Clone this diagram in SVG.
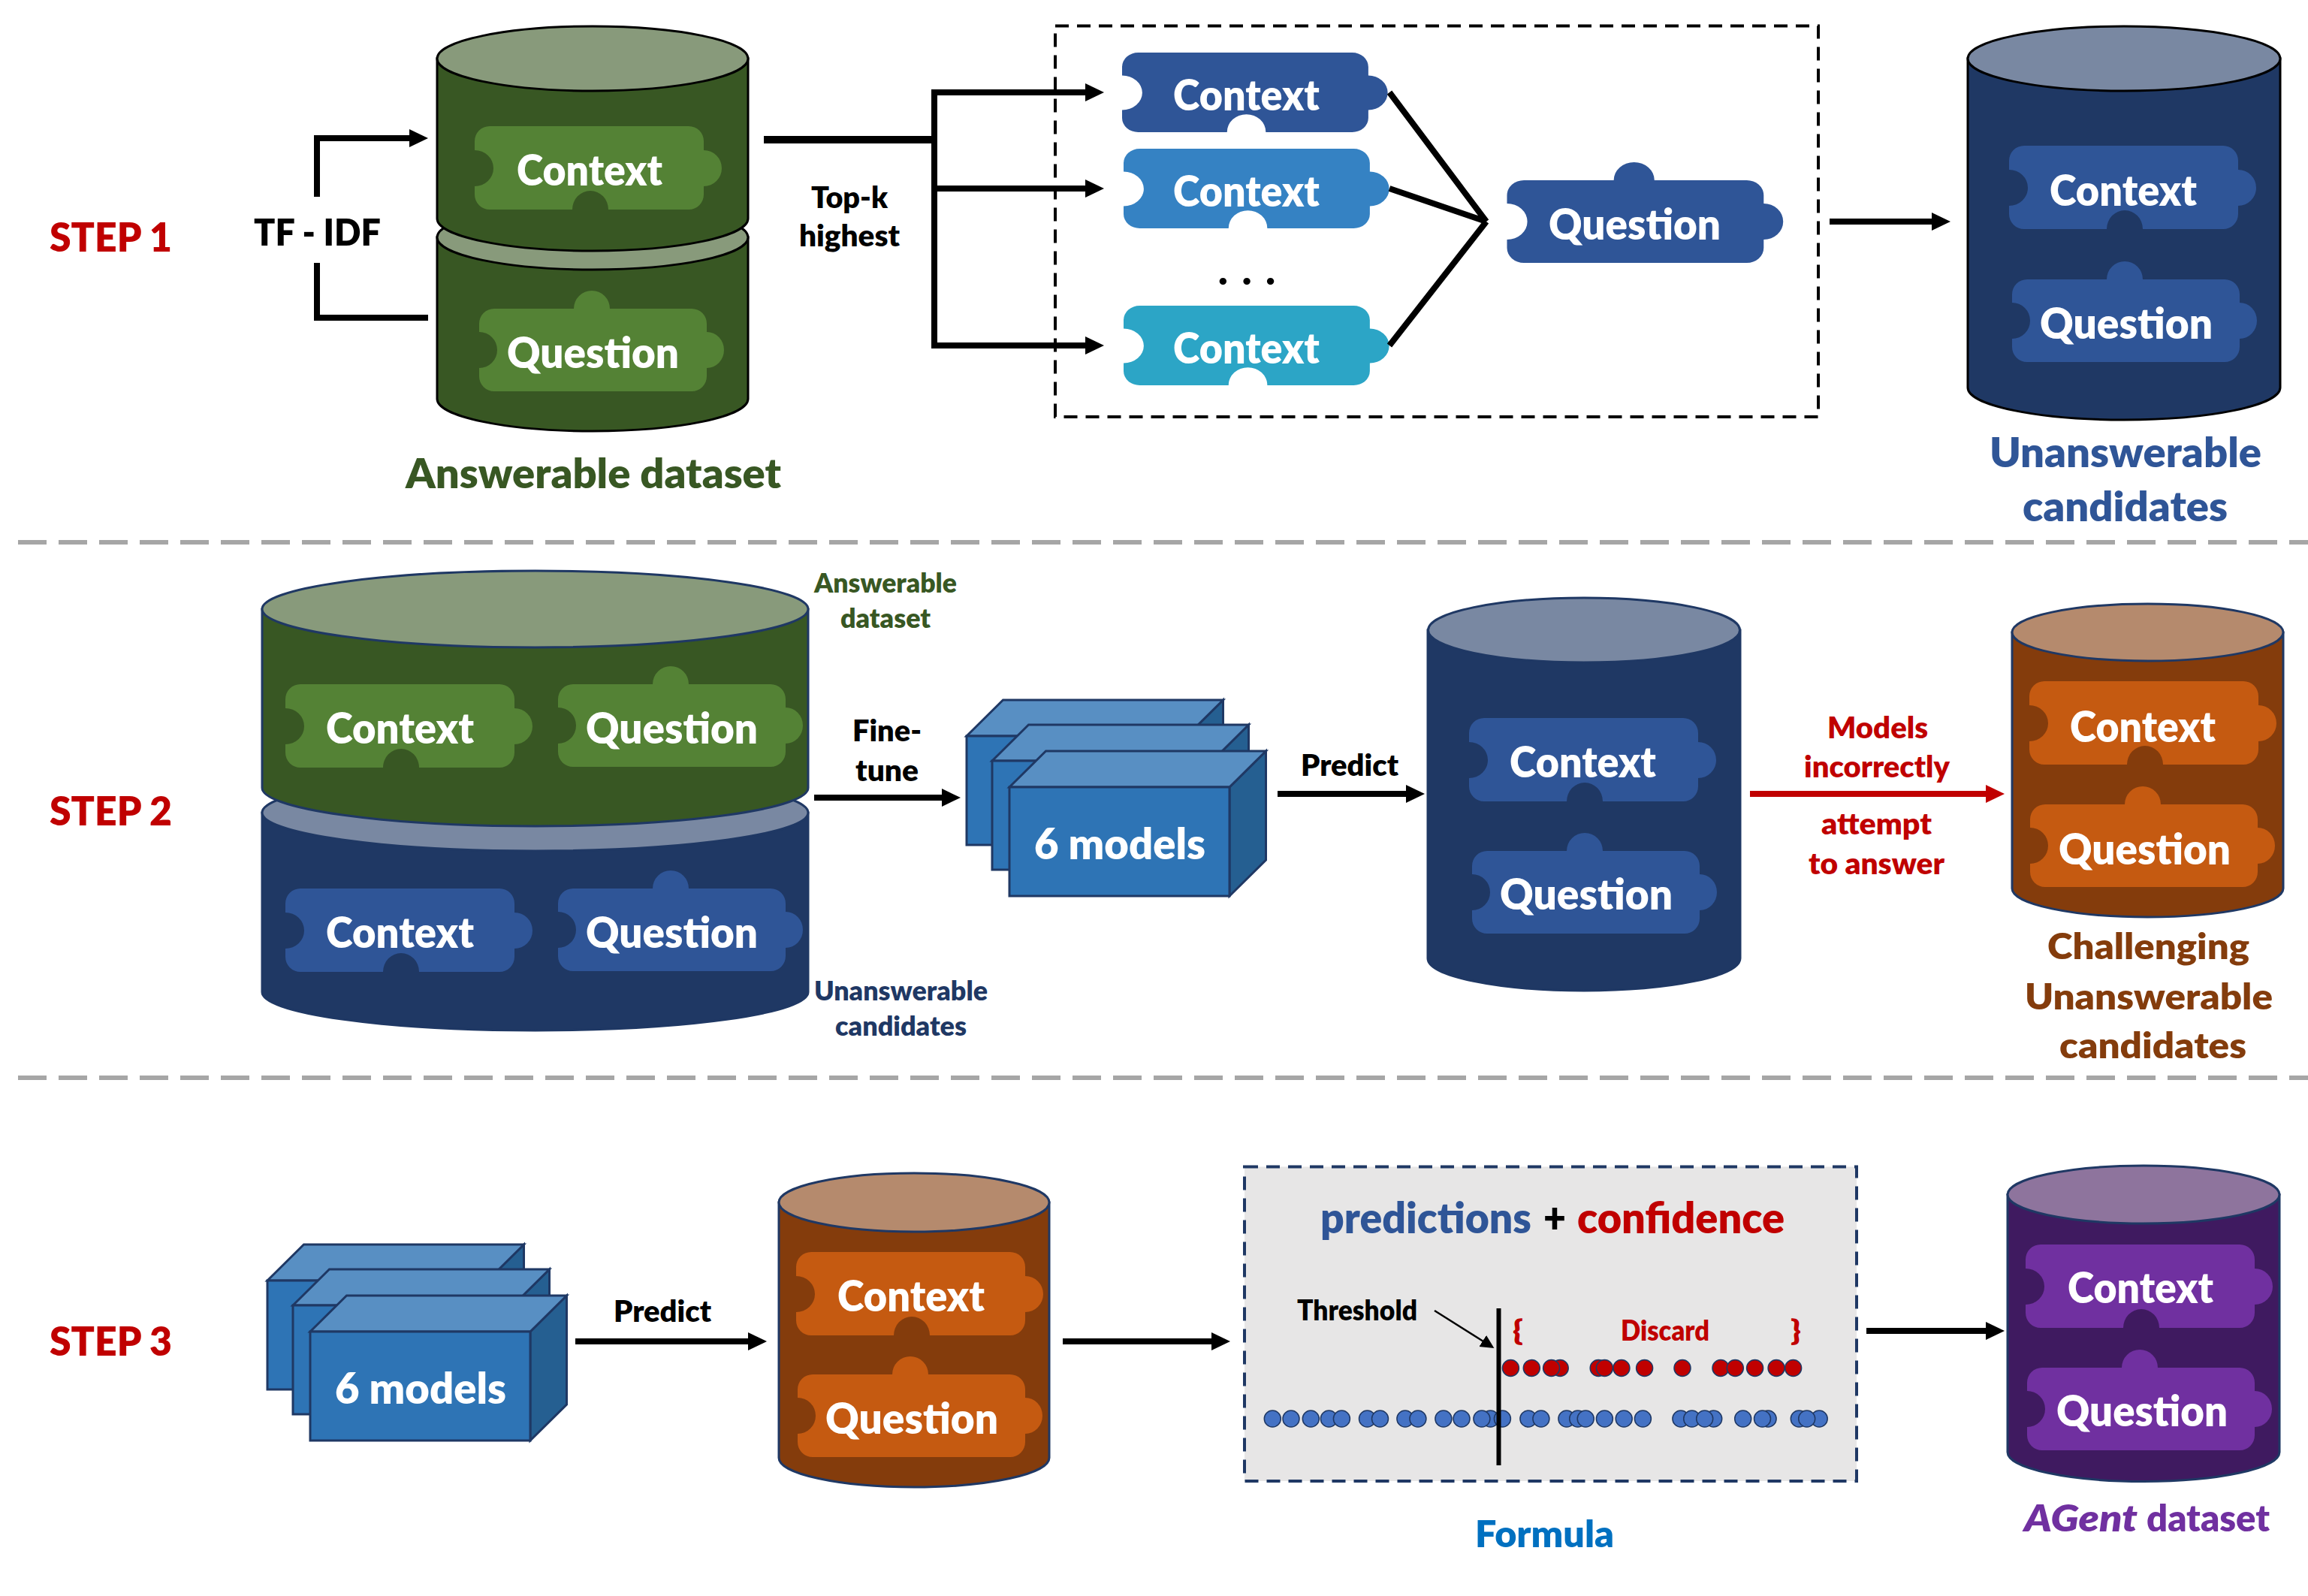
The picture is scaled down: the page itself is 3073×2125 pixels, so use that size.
<svg xmlns="http://www.w3.org/2000/svg" xmlns:xlink="http://www.w3.org/1999/xlink" width="3073" height="2125" viewBox="0 0 3073 2125">
<style>
text{font-family:Lato,"Open Sans","Liberation Sans",sans-serif;font-weight:800;transform:translateY(2px)}
.w{fill:#fff;font-size:56px}
.k{fill:#000}
.r{fill:#c00000}
.step{fill:#c00000;font-size:53px}
.cyl{stroke:#000;stroke-width:3}
.nv{stroke:#1f3864;stroke-width:3}
.g{fill:#385723}.gt{fill:#889a7b}.gp{fill:#548235}
.b{fill:#1f3864}.bt{fill:#7988a2}.bp{fill:#2f5597}
.o{fill:#843c0c}.ot{fill:#b58a6d}.op{fill:#c55a11}
.p{fill:#3f1a60}.pt{fill:#8e749d}.pp{fill:#7030a0}
.ln{fill:none;stroke:#000;stroke-width:8}
.front{fill:#2e74b5}.top{fill:#588fc3}.side{fill:#255f91}
.box polygon,.box rect{stroke:#1f3864;stroke-width:3;stroke-linejoin:miter}
.rd{fill:#c00000;stroke:#1f3864;stroke-width:1.5}
.bd{fill:#4472c4;stroke:#1f3864;stroke-width:1.5}
.div{stroke:#a6a6a6;stroke-width:6;stroke-dasharray:38 16;fill:none}
</style>
<defs>
<path id="ctx" d="M20 0H285A20 20 0 0 1 305 20V32A24 24 0 0 1 305 80V91A20 20 0 0 1 285 111H178A24 25 0 0 0 130 111H20A20 20 0 0 1 0 91V80A25 24 0 0 0 0 32V20A20 20 0 0 1 20 0Z"/>
<path id="qst" d="M20 0H126A24 24 0 0 1 174 0H283A20 20 0 0 1 303 20V31A23 24 0 0 1 303 79V90A20 20 0 0 1 283 110H20A20 20 0 0 1 0 90V79A24 24 0 0 0 0 31V20A20 20 0 0 1 20 0Z"/>
<marker id="ah" markerUnits="userSpaceOnUse" markerWidth="26" markerHeight="26" refX="1" refY="13" orient="auto"><path d="M0 1L25 13L0 25Z" fill="#000"/></marker>
<marker id="ahr" markerUnits="userSpaceOnUse" markerWidth="26" markerHeight="26" refX="1" refY="13" orient="auto"><path d="M0 1L25 13L0 25Z" fill="#c00000"/></marker>
<marker id="ahs" markerUnits="userSpaceOnUse" markerWidth="20" markerHeight="20" refX="1" refY="10" orient="auto"><path d="M0 1L18 10L0 19Z" fill="#000"/></marker>
<g id="cube" class="box">
<polygon class="side" points="293,0 341.500,-48 341.500,97 293,145"/>
<polygon class="top" points="0,0 48.500,-48 341.500,-48 293,0"/>
<rect class="front" x="0" y="0" width="293" height="145"/>
</g>
</defs>
<rect width="3073" height="2125" fill="#fff"/>

<path class="div" d="M24 722H3073"/>
<path class="div" d="M24 1435H3073"/>

<g id="step1-label"><text class="step" x="66" y="333" textLength="163" lengthAdjust="spacingAndGlyphs">STEP 1</text></g>
<g id="step2-label"><text class="step" x="66" y="1097" textLength="163" lengthAdjust="spacingAndGlyphs">STEP 2</text></g>
<g id="step3-label"><text class="step" x="66" y="1803" textLength="163" lengthAdjust="spacingAndGlyphs">STEP 3</text></g>

<g id="answerable-question-cyl">
<path class="g cyl" d="M582 316V531A207 43 0 0 0 996 531V316Z"/>
<ellipse class="gt cyl" cx="789" cy="316" rx="207" ry="43"/>
<use href="#qst" class="gp" x="638" y="411"/>
<text class="w" x="675" y="488" textLength="229" lengthAdjust="spacingAndGlyphs">Question</text>
</g>
<g id="answerable-context-cyl">
<path class="g cyl" d="M582 78V291A207 43 0 0 0 996 291V78Z"/>
<ellipse class="gt cyl" cx="789" cy="78" rx="207" ry="43"/>
<use href="#ctx" class="gp" x="632" y="168"/>
<text class="w" x="688" y="245" textLength="194" lengthAdjust="spacingAndGlyphs">Context</text>
</g>
<g id="answerable-label"><text x="540" y="648" font-size="55" fill="#385723" textLength="500" lengthAdjust="spacingAndGlyphs">Answerable dataset</text></g>

<g id="tfidf-label"><text class="k" x="338" y="325" font-size="50" textLength="169" lengthAdjust="spacingAndGlyphs">TF - IDF</text></g>
<g id="topk-label">
<text class="k" x="1080" y="275" font-size="40" textLength="102" lengthAdjust="spacingAndGlyphs">Top-k</text>
<text class="k" x="1064" y="326" font-size="40" textLength="134" lengthAdjust="spacingAndGlyphs">highest</text>
</g>

<g id="topk-box">
<rect x="1405" y="34.500" width="1016" height="520.500" fill="none" stroke="#000" stroke-width="4" stroke-dasharray="18 11"/>
</g>
<g id="ctx-1">
<use href="#ctx" fill="#2f5597" transform="translate(1494 70) scale(1.075 .955)"/>
<text class="w" x="1562" y="145" textLength="195" lengthAdjust="spacingAndGlyphs">Context</text>
</g>
<g id="ctx-2">
<use href="#ctx" fill="#3582c3" transform="translate(1496 198) scale(1.075 .955)"/>
<text class="w" x="1562" y="273" textLength="195" lengthAdjust="spacingAndGlyphs">Context</text>
</g>
<g id="ctx-3">
<use href="#ctx" fill="#2ca5c6" transform="translate(1496 407) scale(1.075 .955)"/>
<text class="w" x="1562" y="482" textLength="195" lengthAdjust="spacingAndGlyphs">Context</text>
</g>
<g id="dots"><text class="k" x="1622" y="377" font-size="53" textLength="76" lengthAdjust="spacing">. . .</text></g>
<g id="qst-1">
<use href="#qst" fill="#2f5597" transform="translate(2006.500 240) scale(1.128 1)"/>
<text class="w" x="2062" y="316.500" textLength="229" lengthAdjust="spacingAndGlyphs">Question</text>
</g>

<g id="unanswerable-cyl">
<path class="b cyl" d="M2620 78V516A208 43 0 0 0 3036 516V78Z"/>
<ellipse class="bt cyl" cx="2828" cy="78" rx="208" ry="43"/>
<use href="#ctx" class="bp" x="2675" y="194"/>
<text class="w" x="2729" y="272" textLength="196" lengthAdjust="spacingAndGlyphs">Context</text>
<use href="#qst" class="bp" x="2679" y="372"/>
<text class="w" x="2716" y="449" textLength="230" lengthAdjust="spacingAndGlyphs">Question</text>
</g>
<g id="unanswerable-label">
<text x="2649" y="620" font-size="54" fill="#2f5597" textLength="362" lengthAdjust="spacingAndGlyphs">Unanswerable</text>
<text x="2693" y="692" font-size="54" fill="#2f5597" textLength="273" lengthAdjust="spacingAndGlyphs">candidates</text>
</g>

<g id="s2-unanswerable-cyl">
<path class="b nv" d="M349 1082V1321A363.500 51 0 0 0 1076 1321V1082Z"/>
<ellipse class="bt nv" cx="712.500" cy="1082" rx="363.500" ry="51"/>
<use href="#ctx" class="bp" x="380" y="1183"/>
<text class="w" x="434" y="1260" textLength="197" lengthAdjust="spacingAndGlyphs">Context</text>
<use href="#qst" class="bp" x="743" y="1183"/>
<text class="w" x="780" y="1260" textLength="229" lengthAdjust="spacingAndGlyphs">Question</text>
</g>
<g id="s2-answerable-cyl">
<path class="g nv" d="M349 811V1049A363.500 51 0 0 0 1076 1049V811Z"/>
<ellipse class="gt nv" cx="712.500" cy="811" rx="363.500" ry="51"/>
<use href="#ctx" class="gp" x="380" y="911"/>
<text class="w" x="434" y="988" textLength="197" lengthAdjust="spacingAndGlyphs">Context</text>
<use href="#qst" class="gp" x="743" y="911"/>
<text class="w" x="780" y="988" textLength="229" lengthAdjust="spacingAndGlyphs">Question</text>
</g>
<g id="s2-labels">
<text x="1084" y="787" font-size="36" fill="#385723" textLength="190" lengthAdjust="spacingAndGlyphs">Answerable</text>
<text x="1119" y="834" font-size="36" fill="#385723" textLength="120" lengthAdjust="spacingAndGlyphs">dataset</text>
<text x="1084" y="1330" font-size="36" fill="#1f3864" textLength="231" lengthAdjust="spacingAndGlyphs">Unanswerable</text>
<text x="1112" y="1377" font-size="36" fill="#1f3864" textLength="175" lengthAdjust="spacingAndGlyphs">candidates</text>
<text class="k" x="1135" y="985" font-size="40" textLength="92" lengthAdjust="spacingAndGlyphs">Fine-</text>
<text class="k" x="1139" y="1038" font-size="40" textLength="84" lengthAdjust="spacingAndGlyphs">tune</text>
<text class="k" x="1732" y="1031" font-size="40" textLength="130" lengthAdjust="spacingAndGlyphs">Predict</text>
<text class="r" x="2433" y="981" font-size="40" textLength="134" lengthAdjust="spacingAndGlyphs">Models</text>
<text class="r" x="2402" y="1033" font-size="40" textLength="194" lengthAdjust="spacingAndGlyphs">incorrectly</text>
<text class="r" x="2425" y="1109" font-size="40" textLength="147" lengthAdjust="spacingAndGlyphs">attempt</text>
<text class="r" x="2408" y="1162" font-size="40" textLength="181" lengthAdjust="spacingAndGlyphs">to answer</text>
</g>

<g id="s2-models">
<use href="#cube" x="1287" y="980"/>
<use href="#cube" x="1321" y="1013"/>
<use href="#cube" x="1344" y="1048"/>
<text class="w" x="1377" y="1142" textLength="228" lengthAdjust="spacingAndGlyphs">6 models</text>
</g>

<g id="s2-blue-cyl">
<path class="b nv" d="M1901 839V1276A208 43 0 0 0 2317 1276V839Z"/>
<ellipse class="bt nv" cx="2109" cy="839" rx="207.500" ry="43"/>
<use href="#ctx" class="bp" x="1956" y="956"/>
<text class="w" x="2010" y="1033" textLength="195" lengthAdjust="spacingAndGlyphs">Context</text>
<use href="#qst" class="bp" x="1960" y="1133"/>
<text class="w" x="1997" y="1209" textLength="230" lengthAdjust="spacingAndGlyphs">Question</text>
</g>

<g id="s2-orange-cyl">
<path class="o nv" d="M2679 842V1183A180.500 38 0 0 0 3040 1183V842Z"/>
<ellipse class="ot nv" cx="2859.500" cy="842" rx="180.500" ry="38"/>
<use href="#ctx" class="op" x="2702" y="907"/>
<text class="w" x="2756" y="986" textLength="194" lengthAdjust="spacingAndGlyphs">Context</text>
<use href="#qst" class="op" x="2703" y="1071"/>
<text class="w" x="2741" y="1149" textLength="229" lengthAdjust="spacingAndGlyphs">Question</text>
</g>
<g id="s2-orange-label">
<text x="2726" y="1275" font-size="47" fill="#843c0c" textLength="269" lengthAdjust="spacingAndGlyphs">Challenging</text>
<text x="2696" y="1342" font-size="47" fill="#843c0c" textLength="330" lengthAdjust="spacingAndGlyphs">Unanswerable</text>
<text x="2742" y="1407" font-size="47" fill="#843c0c" textLength="249" lengthAdjust="spacingAndGlyphs">candidates</text>
</g>

<g id="s3-models">
<use href="#cube" x="356" y="1705"/>
<use href="#cube" x="390" y="1738"/>
<use href="#cube" x="413" y="1773"/>
<text class="w" x="446" y="1867" textLength="228" lengthAdjust="spacingAndGlyphs">6 models</text>
</g>
<g id="s3-predict-label"><text class="k" x="817" y="1758" font-size="40" textLength="130" lengthAdjust="spacingAndGlyphs">Predict</text></g>

<g id="s3-orange-cyl">
<path class="o nv" d="M1037 1601V1941A180 39 0 0 0 1397 1941V1601Z"/>
<ellipse class="ot nv" cx="1217" cy="1601" rx="180" ry="39"/>
<use href="#ctx" class="op" x="1060" y="1667"/>
<text class="w" x="1115" y="1744" textLength="196" lengthAdjust="spacingAndGlyphs">Context</text>
<use href="#qst" class="op" x="1062" y="1830"/>
<text class="w" x="1099" y="1907" textLength="230" lengthAdjust="spacingAndGlyphs">Question</text>
</g>

<g id="formula">
<rect x="1657" y="1553.500" width="815" height="418.500" fill="#e7e6e6" stroke="#1f3864" stroke-width="4" stroke-dasharray="18 11"/>
<text x="1758" y="1640" font-size="56" fill="#2f5597" textLength="281" lengthAdjust="spacingAndGlyphs">predictions</text>
<text class="k" x="2055" y="1640" font-size="56" textLength="30" lengthAdjust="spacingAndGlyphs">+</text>
<text x="2100" y="1640" font-size="56" fill="#c00000" textLength="276" lengthAdjust="spacingAndGlyphs">confidence</text>
<text class="k" x="1727" y="1756" font-size="37" textLength="160" lengthAdjust="spacingAndGlyphs">Threshold</text>
<text class="r" x="2014" y="1783" font-size="37" textLength="14" lengthAdjust="spacingAndGlyphs">{</text>
<text class="r" x="2158" y="1783" font-size="37" textLength="118" lengthAdjust="spacingAndGlyphs">Discard</text>
<text class="r" x="2384" y="1783" font-size="37" textLength="14" lengthAdjust="spacingAndGlyphs">}</text>
<g id="red-dots">
<circle class="rd" cx="2077.200" cy="1821.500" r="11"/><circle class="rd" cx="2011.400" cy="1821.500" r="11"/><circle class="rd" cx="2039.300" cy="1821.500" r="11"/><circle class="rd" cx="2065.600" cy="1821.500" r="11"/>
<circle class="rd" cx="2128.200" cy="1821.500" r="11"/><circle class="rd" cx="2136.400" cy="1821.500" r="11"/><circle class="rd" cx="2158.900" cy="1821.500" r="11"/><circle class="rd" cx="2189.600" cy="1821.500" r="11"/><circle class="rd" cx="2240" cy="1821.500" r="11"/><circle class="rd" cx="2291" cy="1821.500" r="11"/><circle class="rd" cx="2310.300" cy="1821.500" r="11"/><circle class="rd" cx="2336.600" cy="1821.500" r="11"/><circle class="rd" cx="2365.100" cy="1821.500" r="11"/><circle class="rd" cx="2387.600" cy="1821.500" r="11"/>
</g>
<g id="blue-dots">
<circle class="bd" cx="1694.300" cy="1889" r="11"/><circle class="bd" cx="1719" cy="1889" r="11"/><circle class="bd" cx="1745.300" cy="1889" r="11"/><circle class="bd" cx="1769.400" cy="1889" r="11"/><circle class="bd" cx="1786.400" cy="1889" r="11"/><circle class="bd" cx="1820.500" cy="1889" r="11"/><circle class="bd" cx="1837.500" cy="1889" r="11"/><circle class="bd" cx="1870.900" cy="1889" r="11"/><circle class="bd" cx="1887.900" cy="1889" r="11"/><circle class="bd" cx="1921.900" cy="1889" r="11"/><circle class="bd" cx="1946" cy="1889" r="11"/><circle class="bd" cx="1984.500" cy="1889" r="11"/><circle class="bd" cx="1972.900" cy="1889" r="11"/><circle class="bd" cx="2000.400" cy="1889" r="11"/><circle class="bd" cx="2034.900" cy="1889" r="11"/><circle class="bd" cx="2051.900" cy="1889" r="11"/><circle class="bd" cx="2085.900" cy="1889" r="11"/><circle class="bd" cx="2100.700" cy="1889" r="11"/><circle class="bd" cx="2111.200" cy="1889" r="11"/><circle class="bd" cx="2136.400" cy="1889" r="11"/><circle class="bd" cx="2162.200" cy="1889" r="11"/><circle class="bd" cx="2187.400" cy="1889" r="11"/><circle class="bd" cx="2237.900" cy="1889" r="11"/><circle class="bd" cx="2252.700" cy="1889" r="11"/><circle class="bd" cx="2281.700" cy="1889" r="11"/><circle class="bd" cx="2269.700" cy="1889" r="11"/><circle class="bd" cx="2354.100" cy="1889" r="11"/><circle class="bd" cx="2320.700" cy="1889" r="11"/><circle class="bd" cx="2346.500" cy="1889" r="11"/><circle class="bd" cx="2422.200" cy="1889" r="11"/><circle class="bd" cx="2395.300" cy="1889" r="11"/><circle class="bd" cx="2405.700" cy="1889" r="11"/>
</g>
<path d="M1995.500 1742V1951" stroke="#000" stroke-width="6" fill="none"/>
<path d="M1910 1745L1975 1786" stroke="#000" stroke-width="2.500" fill="none" marker-end="url(#ahs)"/>
</g>
<g id="formula-label"><text x="1964" y="2058" font-size="49" fill="#0070c0" textLength="185" lengthAdjust="spacingAndGlyphs">Formula</text></g>

<g id="agent-cyl">
<path class="p nv" d="M2673 1590.500V1933.500A181 39 0 0 0 3035 1933.500V1590.500Z"/>
<ellipse class="pt nv" cx="2854" cy="1590.500" rx="181" ry="38.500"/>
<use href="#ctx" class="pp" x="2697" y="1657"/>
<text class="w" x="2753" y="1733" textLength="194" lengthAdjust="spacingAndGlyphs">Context</text>
<use href="#qst" class="pp" x="2699" y="1821"/>
<text class="w" x="2738" y="1897" textLength="228" lengthAdjust="spacingAndGlyphs">Question</text>
</g>
<g id="agent-label">
<text x="2695" y="2037" font-size="49" fill="#7030a0" font-style="italic" textLength="151" lengthAdjust="spacingAndGlyphs">AGent</text>
<text x="2858" y="2037" font-size="49" fill="#7030a0" textLength="164" lengthAdjust="spacingAndGlyphs">dataset</text>
</g>

<g id="connectors">
<path class="ln" d="M422 262V184H546" marker-end="url(#ah)"/>
<path class="ln" d="M422 350V423H570"/>
<path d="M1017 186H1244" fill="none" stroke="#000" stroke-width="10"/>
<path class="ln" d="M1244 123V460H1446" marker-end="url(#ah)"/>
<path class="ln" d="M1244 251H1446" marker-end="url(#ah)"/>
<path class="ln" d="M1240 123H1446" marker-end="url(#ah)"/>
<path class="ln" d="M1850 123L1979 295M1850 251L1979 295M1850 460L1979 295"/>
<path class="ln" d="M2436 295H2573" marker-end="url(#ah)"/>
<path class="ln" d="M1084 1062H1255" marker-end="url(#ah)"/>
<path class="ln" d="M1701 1057H1873" marker-end="url(#ah)"/>
<path d="M2330 1057H2645" fill="none" stroke="#c00000" stroke-width="8" marker-end="url(#ahr)"/>
<path class="ln" d="M766 1786H997" marker-end="url(#ah)"/>
<path class="ln" d="M1415 1786H1614" marker-end="url(#ah)"/>
<path class="ln" d="M2485 1772H2645" marker-end="url(#ah)"/>
</g>
</svg>
